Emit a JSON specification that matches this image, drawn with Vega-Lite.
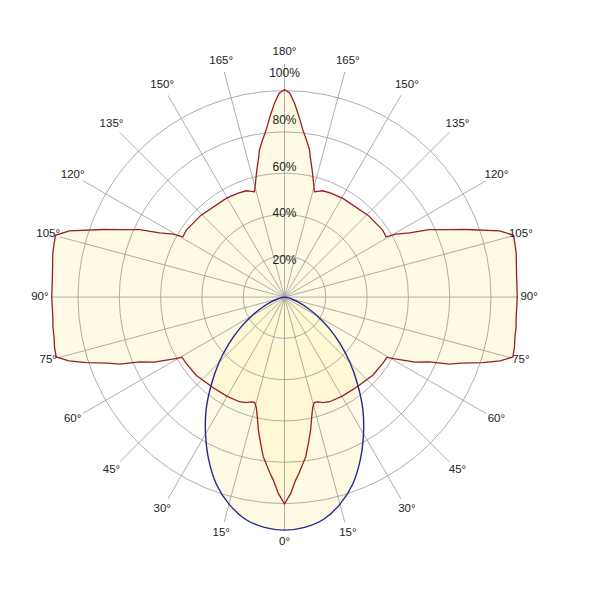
{
  "$schema": "https://vega.github.io/schema/vega-lite/v6.json",
  "width": 600,
  "height": 600,
  "autosize": {"type": "none"},
  "padding": 0,
  "background": "white",
  "config": {
    "view": {"stroke": null}
  },
  "datasets": {
    "red": [
      {"phi": 0, "r": 88.8}, {"phi": 1.8, "r": 84.3}, {"phi": 3.5, "r": 78.7}, {"phi": 4.7, "r": 75.9},
      {"phi": 7.6, "r": 69.1}, {"phi": 9.7, "r": 62.3}, {"phi": 11.1, "r": 58.2}, {"phi": 12.8, "r": 52.7},
      {"phi": 14.3, "r": 49}, {"phi": 15.7, "r": 47}, {"phi": 17.6, "r": 47.2}, {"phi": 20, "r": 48.2},
      {"phi": 23.3, "r": 48.9}, {"phi": 30, "r": 49.2}, {"phi": 38.4, "r": 49.5}, {"phi": 48.5, "r": 50.6},
      {"phi": 56, "r": 50.9}, {"phi": 59.5, "r": 51}, {"phi": 61, "r": 55}, {"phi": 63.5, "r": 62.5},
      {"phi": 65.9, "r": 68}, {"phi": 67.9, "r": 76.4}, {"phi": 69.5, "r": 80.9}, {"phi": 71.7, "r": 89.7},
      {"phi": 73.5, "r": 96.5}, {"phi": 75.3, "r": 101.3}, {"phi": 77.8, "r": 101}, {"phi": 80, "r": 100.4},
      {"phi": 82.7, "r": 100.2}, {"phi": 85, "r": 99.8}, {"phi": 90, "r": 99.9}, {"phi": 95, "r": 100},
      {"phi": 100.7, "r": 101.2}, {"phi": 103, "r": 101.5}, {"phi": 105.1, "r": 101.8}, {"phi": 107.1, "r": 96.6},
      {"phi": 110.4, "r": 83.2}, {"phi": 112.5, "r": 75.7}, {"phi": 115, "r": 68.6}, {"phi": 117.2, "r": 60.3},
      {"phi": 119.5, "r": 54.9}, {"phi": 120.7, "r": 50.7}, {"phi": 124.3, "r": 51}, {"phi": 134.3, "r": 50.2},
      {"phi": 149.4, "r": 49.2}, {"phi": 156, "r": 48.8}, {"phi": 160.2, "r": 48.5}, {"phi": 162.5, "r": 47.6},
      {"phi": 164.1, "r": 47}, {"phi": 165.5, "r": 50}, {"phi": 167.7, "r": 55.8}, {"phi": 169.6, "r": 61.2},
      {"phi": 170.3, "r": 64}, {"phi": 172, "r": 68}, {"phi": 173.7, "r": 72.1}, {"phi": 175.5, "r": 78},
      {"phi": 177, "r": 83.2}, {"phi": 178.5, "r": 87.5}, {"phi": 180, "r": 89.1},
      {"phi": 181.5, "r": 87.5}, {"phi": 183, "r": 83.2}, {"phi": 184.5, "r": 78}, {"phi": 186.3, "r": 72.1},
      {"phi": 188, "r": 68}, {"phi": 189.7, "r": 64}, {"phi": 190.4, "r": 61.2}, {"phi": 192.3, "r": 55.8},
      {"phi": 194.5, "r": 50}, {"phi": 195.9, "r": 47}, {"phi": 197.5, "r": 47.6}, {"phi": 199.8, "r": 48.5},
      {"phi": 204, "r": 48.8}, {"phi": 210.6, "r": 49.2}, {"phi": 225.7, "r": 50.2}, {"phi": 235.7, "r": 51},
      {"phi": 239.3, "r": 50.7}, {"phi": 240.5, "r": 54.9}, {"phi": 242.8, "r": 60.3}, {"phi": 245, "r": 68.6},
      {"phi": 247.5, "r": 75.7}, {"phi": 249.6, "r": 83.2}, {"phi": 252.9, "r": 96.6}, {"phi": 254.9, "r": 101.8},
      {"phi": 257, "r": 101.5}, {"phi": 259.3, "r": 101.2}, {"phi": 265, "r": 100}, {"phi": 270, "r": 99.9},
      {"phi": 275, "r": 99.8}, {"phi": 277.3, "r": 100.2}, {"phi": 280, "r": 100.4}, {"phi": 282.2, "r": 101},
      {"phi": 284.7, "r": 101.3}, {"phi": 286.5, "r": 96.5}, {"phi": 288.3, "r": 89.7}, {"phi": 290.5, "r": 80.9},
      {"phi": 292.1, "r": 76.4}, {"phi": 294.1, "r": 68}, {"phi": 296.5, "r": 62.5}, {"phi": 299, "r": 55},
      {"phi": 300.5, "r": 51}, {"phi": 304, "r": 50.9}, {"phi": 311.5, "r": 50.6}, {"phi": 321.6, "r": 49.5},
      {"phi": 330, "r": 49.2}, {"phi": 336.7, "r": 48.9}, {"phi": 340, "r": 48.2}, {"phi": 342.4, "r": 47.2},
      {"phi": 344.3, "r": 47}, {"phi": 345.7, "r": 49}, {"phi": 347.2, "r": 52.7}, {"phi": 348.9, "r": 58.2},
      {"phi": 350.3, "r": 62.3}, {"phi": 352.4, "r": 69.1}, {"phi": 355.3, "r": 75.9}, {"phi": 356.5, "r": 78.7},
      {"phi": 358.2, "r": 84.3}
    ],
    "blue": [
      {"phi": 0, "r": 100}, {"phi": 5, "r": 99.2}, {"phi": 10, "r": 96.8}, {"phi": 15, "r": 92},
      {"phi": 20, "r": 85.5}, {"phi": 25, "r": 77}, {"phi": 30, "r": 67.8}, {"phi": 35, "r": 58.6},
      {"phi": 40, "r": 48.8}, {"phi": 45, "r": 39.8}, {"phi": 50, "r": 31.2}, {"phi": 55, "r": 23.4},
      {"phi": 60, "r": 16.4}, {"phi": 65, "r": 10.6}, {"phi": 70, "r": 6.1}, {"phi": 75, "r": 3},
      {"phi": 80, "r": 1.1}, {"phi": 85, "r": 0.2}, {"phi": 90, "r": 0},
      {"phi": 270, "r": 0}, {"phi": 275, "r": 0.2}, {"phi": 280, "r": 1.1}, {"phi": 285, "r": 3},
      {"phi": 290, "r": 6.1}, {"phi": 295, "r": 10.6}, {"phi": 300, "r": 16.4}, {"phi": 305, "r": 23.4},
      {"phi": 310, "r": 31.2}, {"phi": 315, "r": 39.8}, {"phi": 320, "r": 48.8}, {"phi": 325, "r": 58.6},
      {"phi": 330, "r": 67.8}, {"phi": 335, "r": 77}, {"phi": 340, "r": 85.5}, {"phi": 345, "r": 92},
      {"phi": 350, "r": 96.8}, {"phi": 355, "r": 99.2}
    ],
    "rings": [{"R": 20}, {"R": 40}, {"R": 60}, {"R": 80}, {"R": 100}],
    "spokes": [
      {"phi": 0}, {"phi": 15}, {"phi": 30}, {"phi": 45}, {"phi": 60}, {"phi": 75},
      {"phi": 90}, {"phi": 105}, {"phi": 120}, {"phi": 135}, {"phi": 150}, {"phi": 165},
      {"phi": 180}, {"phi": 195}, {"phi": 210}, {"phi": 225}, {"phi": 240}, {"phi": 255},
      {"phi": 270}, {"phi": 285}, {"phi": 300}, {"phi": 315}, {"phi": 330}, {"phi": 345}
    ],
    "angleLabels": [
      {"phi": 0, "label": "0°"}, {"phi": 15, "label": "15°"}, {"phi": 30, "label": "30°"},
      {"phi": 45, "label": "45°"}, {"phi": 60, "label": "60°"}, {"phi": 75, "label": "75°"},
      {"phi": 90, "label": "90°"}, {"phi": 105, "label": "105°"}, {"phi": 120, "label": "120°"},
      {"phi": 135, "label": "135°"}, {"phi": 150, "label": "150°"}, {"phi": 165, "label": "165°"},
      {"phi": 180, "label": "180°"}, {"phi": 195, "label": "165°"}, {"phi": 210, "label": "150°"},
      {"phi": 225, "label": "135°"}, {"phi": 240, "label": "120°"}, {"phi": 255, "label": "105°"},
      {"phi": 270, "label": "90°"}, {"phi": 285, "label": "75°"}, {"phi": 300, "label": "60°"},
      {"phi": 315, "label": "45°"}, {"phi": 330, "label": "30°"}, {"phi": 345, "label": "15°"}
    ],
    "pctLabels": [
      {"R": 20, "label": "20%"}, {"R": 40, "label": "40%"}, {"R": 60, "label": "60%"},
      {"R": 80, "label": "80%"}, {"R": 100, "label": "100%"}
    ]
  },
  "layer": [
    {
      "data": {"name": "red"},
      "transform": [
        {"calculate": "-datum.r * sin(datum.phi * PI / 180)", "as": "x"},
        {"calculate": "-datum.r * cos(datum.phi * PI / 180)", "as": "y"}
      ],
      "mark": {"type": "line", "interpolate": "linear-closed", "fill": "#fff6c8", "fillOpacity": 0.5, "strokeWidth": 0},
      "encoding": {
        "x": {"field": "x", "type": "quantitative", "scale": {"domain": [-122.1, 135.4], "nice": false, "zero": false}, "axis": null},
        "y": {"field": "y", "type": "quantitative", "scale": {"domain": [-130.0, 127.5], "nice": false, "zero": false}, "axis": null},
        "order": {"field": "phi", "type": "quantitative"}
      }
    },
    {
      "data": {"name": "blue"},
      "transform": [
        {"calculate": "-datum.r * sin(datum.phi * PI / 180)", "as": "x"},
        {"calculate": "-datum.r * cos(datum.phi * PI / 180)", "as": "y"}
      ],
      "mark": {"type": "line", "interpolate": "cardinal-closed", "fill": "#fff6c8", "fillOpacity": 0.5, "strokeWidth": 0},
      "encoding": {
        "x": {"field": "x", "type": "quantitative", "axis": null},
        "y": {"field": "y", "type": "quantitative", "axis": null},
        "order": {"field": "phi", "type": "quantitative"}
      }
    },
    {
      "data": {"name": "rings"},
      "transform": [
        {"calculate": "0", "as": "cx"}
      ],
      "mark": {"type": "point", "shape": "circle", "filled": false, "stroke": "#999999", "strokeWidth": 0.8, "opacity": 1},
      "encoding": {
        "x": {"field": "cx", "type": "quantitative"},
        "y": {"field": "cx", "type": "quantitative"},
        "size": {"field": "R", "type": "quantitative", "scale": {"type": "pow", "exponent": 2, "domain": [0, 100], "range": [0, 170553]}, "legend": null}
      }
    },
    {
      "data": {"name": "spokes"},
      "transform": [
        {"calculate": "-100 * sin(datum.phi * PI / 180)", "as": "xe"},
        {"calculate": "-100 * cos(datum.phi * PI / 180)", "as": "ye"},
        {"calculate": "0", "as": "c0"}
      ],
      "mark": {"type": "rule", "stroke": "#999999", "strokeWidth": 0.8},
      "encoding": {
        "x": {"field": "c0", "type": "quantitative"},
        "y": {"field": "c0", "type": "quantitative"},
        "x2": {"field": "xe"},
        "y2": {"field": "ye"}
      }
    },
    {
      "data": {"name": "red"},
      "transform": [
        {"calculate": "-datum.r * sin(datum.phi * PI / 180)", "as": "x"},
        {"calculate": "-datum.r * cos(datum.phi * PI / 180)", "as": "y"}
      ],
      "mark": {"type": "line", "interpolate": "linear-closed", "stroke": "#9b1d20", "strokeWidth": 1.3},
      "encoding": {
        "x": {"field": "x", "type": "quantitative"},
        "y": {"field": "y", "type": "quantitative"},
        "order": {"field": "phi", "type": "quantitative"}
      }
    },
    {
      "data": {"name": "blue"},
      "transform": [
        {"calculate": "-datum.r * sin(datum.phi * PI / 180)", "as": "x"},
        {"calculate": "-datum.r * cos(datum.phi * PI / 180)", "as": "y"}
      ],
      "mark": {"type": "line", "interpolate": "cardinal-closed", "stroke": "#232a8c", "strokeWidth": 1.4},
      "encoding": {
        "x": {"field": "x", "type": "quantitative"},
        "y": {"field": "y", "type": "quantitative"},
        "order": {"field": "phi", "type": "quantitative"}
      }
    },
    {
      "data": {"name": "angleLabels"},
      "transform": [
        {"calculate": "-105 * sin(datum.phi * PI / 180)", "as": "x"},
        {"calculate": "-105 * cos(datum.phi * PI / 180)", "as": "y"}
      ],
      "mark": {"type": "text", "align": "center", "baseline": "middle", "font": "Liberation Sans", "fontSize": 11.5, "fill": "#222222"},
      "encoding": {
        "x": {"field": "x", "type": "quantitative"},
        "y": {"field": "y", "type": "quantitative"},
        "text": {"field": "label"}
      }
    },
    {
      "data": {"name": "pctLabels"},
      "transform": [
        {"calculate": "datum.R - 4", "as": "y"},
        {"calculate": "0", "as": "x"}
      ],
      "mark": {"type": "text", "align": "center", "baseline": "middle", "font": "Liberation Sans", "fontSize": 12, "fill": "#222222"},
      "encoding": {
        "x": {"field": "x", "type": "quantitative"},
        "y": {"field": "y", "type": "quantitative"},
        "text": {"field": "label"}
      }
    }
  ]
}
